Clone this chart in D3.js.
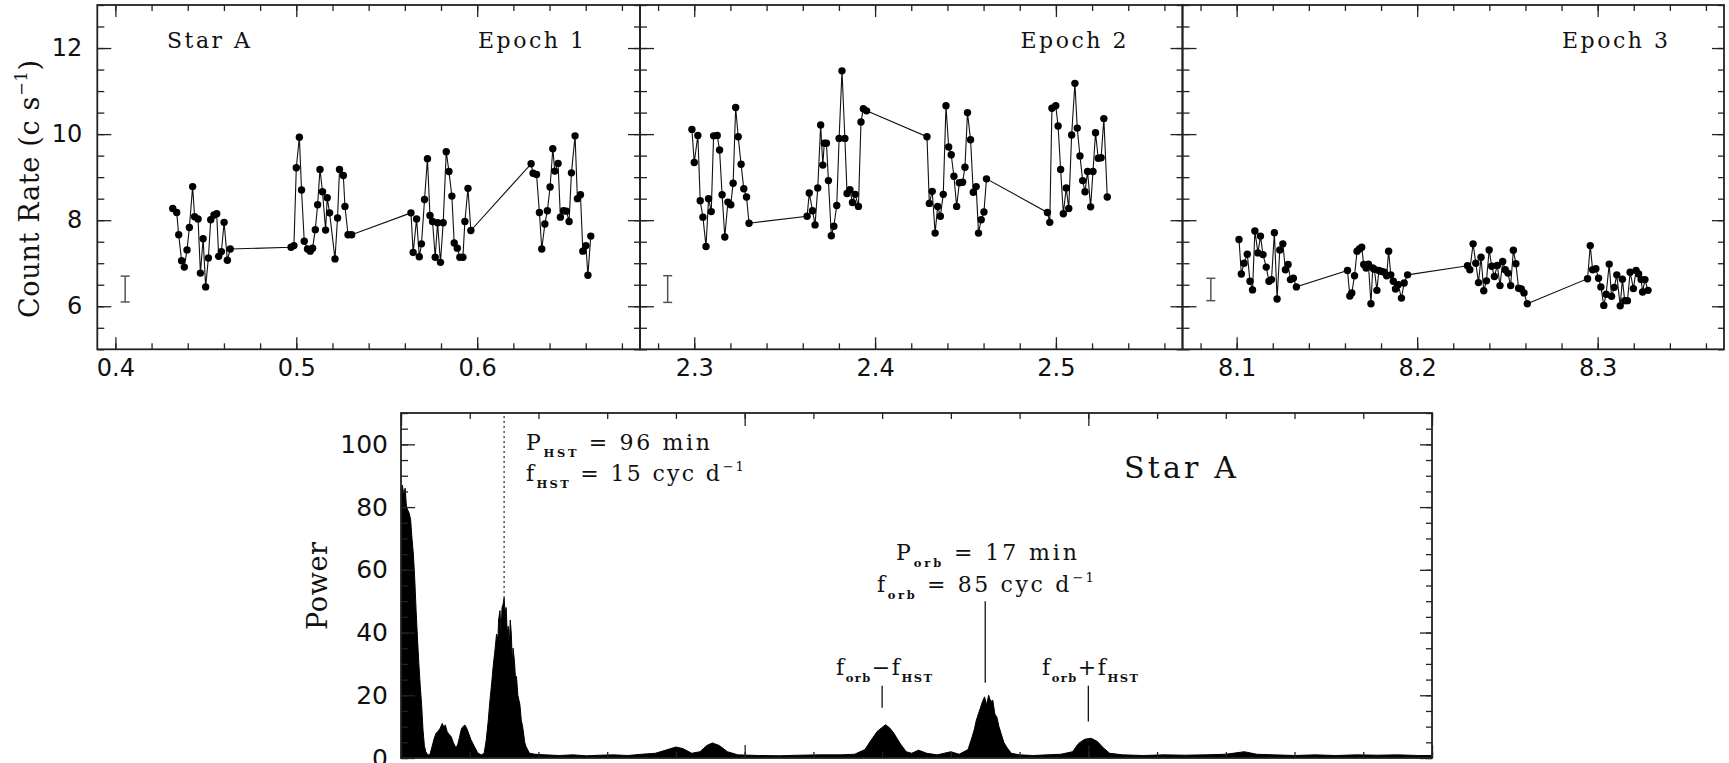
<!DOCTYPE html>
<html>
<head>
<meta charset="utf-8">
<script src="https://cdn.jsdelivr.net/npm/d3@7"></script>
<style>
body { margin: 0; background: #fff; }
svg { display: block; }
</style>
</head>
<body>
<div id="chart"></div>
<script>
// light curves, one pair of arrays per epoch (time in days, count rate in c/s)
var epoch1Time = [0.4317, 0.4339, 0.4350, 0.4366, 0.4381, 0.4396, 0.4409, 0.4427, 0.4438, 0.4457, 0.4470, 0.4485, 0.4499, 0.4514, 0.4527, 0.4545, 0.4560, 0.4571, 0.4586, 0.4601, 0.4619, 0.4635,
    0.4971, 0.4987, 0.5000, 0.5017, 0.5029, 0.5044, 0.5062, 0.5077, 0.5090, 0.5105, 0.5118, 0.5131, 0.5145, 0.5162, 0.5171, 0.5184, 0.5214, 0.5228, 0.5239, 0.5260, 0.5269, 0.5286, 0.5306,
    0.5634, 0.5646, 0.5665, 0.5680, 0.5692, 0.5709, 0.5725, 0.5739, 0.5753, 0.5768, 0.5781, 0.5797, 0.5812, 0.5829, 0.5844, 0.5860, 0.5873, 0.5890, 0.5904, 0.5921, 0.5932, 0.5949, 0.5965,
    0.6298, 0.6309, 0.6328, 0.6344, 0.6357, 0.6374, 0.6388, 0.6403, 0.6418, 0.6429, 0.6447, 0.6460, 0.6477, 0.6493, 0.6508, 0.6521, 0.6541, 0.6554, 0.6571, 0.6584, 0.6601, 0.6612, 0.6628];
var epoch1Rate = [8.27, 8.18, 7.66, 7.06, 6.91, 7.31, 7.83, 8.78, 8.08, 8.03, 6.77, 7.57, 6.45, 7.12, 8.01, 8.12, 8.15, 7.16, 7.27, 7.95, 7.07, 7.33,
    7.37, 7.41, 9.22, 9.93, 8.70, 7.51, 7.33, 7.28, 7.35, 7.78, 8.36, 9.18, 8.66, 7.77, 8.52, 8.17, 7.10, 8.05, 9.18, 9.04, 8.32, 7.66, 7.66,
    8.17, 7.25, 8.03, 7.15, 7.45, 8.48, 9.43, 8.11, 7.97, 7.14, 7.94, 7.02, 7.94, 9.59, 9.13, 8.56, 7.47, 7.35, 7.14, 7.14, 7.97, 8.74, 7.76,
    9.31, 9.09, 9.06, 8.18, 7.33, 7.91, 8.22, 8.77, 9.66, 9.14, 9.32, 8.07, 8.22, 8.21, 7.97, 9.10, 9.96, 8.50, 8.59, 7.28, 7.41, 6.72, 7.63];

var epoch2Time = [2.2987, 2.3000, 2.3020, 2.3033, 2.3048, 2.3065, 2.3079, 2.3094, 2.3107, 2.3127, 2.3140, 2.3154, 2.3169, 2.3186, 2.3202, 2.3215, 2.3229, 2.3243, 2.3259, 2.3274, 2.3289, 2.3303,
    2.3624, 2.3636, 2.3654, 2.3668, 2.3683, 2.3699, 2.3711, 2.3719, 2.3731, 2.3742, 2.3758, 2.3772, 2.3788, 2.3801, 2.3817, 2.3833, 2.3845, 2.3861, 2.3875, 2.3890, 2.3908, 2.3922, 2.3935, 2.3953,
    2.4287, 2.4300, 2.4316, 2.4332, 2.4346, 2.4361, 2.4377, 2.4392, 2.4407, 2.4421, 2.4436, 2.4451, 2.4466, 2.4484, 2.4497, 2.4511, 2.4528, 2.4543, 2.4559, 2.4572, 2.4587, 2.4602, 2.4616,
    2.4953, 2.4966, 2.4978, 2.4999, 2.5012, 2.5026, 2.5041, 2.5057, 2.5071, 2.5087, 2.5105, 2.5118, 2.5133, 2.5148, 2.5161, 2.5175, 2.5192, 2.5205, 2.5219, 2.5234, 2.5250, 2.5265, 2.5284];
var epoch2Rate = [10.11, 9.34, 9.97, 8.45, 8.07, 7.39, 8.50, 8.20, 9.96, 9.97, 9.63, 8.59, 7.61, 8.42, 8.36, 8.86, 10.62, 9.94, 9.30, 8.73, 8.54, 7.93,
    8.09, 8.63, 8.22, 7.89, 8.75, 10.21, 9.28, 9.79, 9.79, 8.92, 7.64, 7.86, 8.34, 9.90, 11.47, 9.90, 8.62, 8.71, 8.41, 8.60, 8.32, 10.28, 10.59, 10.54,
    9.94, 8.39, 8.67, 7.70, 8.32, 8.09, 8.60, 10.66, 9.70, 9.52, 9.02, 8.32, 8.87, 8.88, 9.23, 10.50, 9.87, 8.65, 8.78, 7.70, 8.01, 8.19, 8.96,
    8.18, 7.95, 10.60, 10.66, 10.19, 9.18, 8.15, 8.75, 8.27, 9.98, 11.18, 10.14, 9.49, 8.92, 8.66, 9.13, 8.31, 9.13, 10.03, 9.44, 9.45, 10.36, 8.54];

var epoch3Time = [8.1013, 8.1026, 8.1041, 8.1059, 8.1074, 8.1088, 8.1101, 8.1118, 8.1132, 8.1146, 8.1164, 8.1179, 8.1193, 8.1209, 8.1224, 8.1239, 8.1256, 8.1270, 8.1285, 8.1298, 8.1314, 8.1331,
    8.1614, 8.1627, 8.1638, 8.1653, 8.1667, 8.1680, 8.1693, 8.1704, 8.1717, 8.1730, 8.1744, 8.1754, 8.1763, 8.1777, 8.1788, 8.1803, 8.1818, 8.1831, 8.1842, 8.1854, 8.1868, 8.1880, 8.1895, 8.1913, 8.1928, 8.1947,
    8.2279, 8.2292, 8.2310, 8.2325, 8.2340, 8.2354, 8.2369, 8.2384, 8.2399, 8.2413, 8.2428, 8.2444, 8.2459, 8.2474, 8.2488, 8.2503, 8.2518, 8.2533, 8.2547, 8.2562, 8.2577, 8.2592, 8.2610,
    8.2944, 8.2959, 8.2972, 8.2990, 8.3005, 8.3018, 8.3034, 8.3047, 8.3064, 8.3077, 8.3092, 8.3106, 8.3125, 8.3137, 8.3150, 8.3165, 8.3180, 8.3198, 8.3213, 8.3227, 8.3241, 8.3249, 8.3262, 8.3279];
var epoch3Rate = [7.55, 6.75, 7.00, 7.21, 6.58, 6.38, 7.75, 7.24, 7.63, 7.20, 6.91, 6.58, 6.62, 7.71, 6.17, 7.31, 7.45, 6.85, 6.97, 6.62, 6.65, 6.45,
    6.83, 6.24, 6.31, 6.71, 7.28, 7.33, 7.37, 6.97, 6.89, 6.98, 6.06, 6.89, 6.86, 6.37, 6.83, 6.81, 6.79, 6.71, 7.28, 6.73, 6.58, 6.40, 6.50, 6.19, 6.54, 6.73,
    6.94, 6.85, 7.45, 7.00, 6.55, 7.14, 6.36, 6.59, 7.31, 6.93, 6.69, 6.95, 6.48, 7.04, 6.85, 6.77, 6.48, 7.30, 6.99, 6.42, 6.40, 6.31, 6.06,
    6.64, 7.41, 6.85, 6.87, 6.65, 6.45, 6.02, 6.28, 6.98, 6.23, 6.44, 6.73, 6.01, 6.63, 6.13, 6.13, 6.79, 6.41, 6.83, 6.75, 6.62, 6.33, 6.62, 6.37];

// typical error bar drawn in each panel
var errTime = [0.4054, 2.2853, 8.0857];
var errRate = [6.40, 6.40, 6.39];
var errHalf = [0.30, 0.31, 0.26];

var epochNames = ["Epoch 1", "Epoch 2", "Epoch 3"];
var epochDomains = [[0.39, 0.69], [2.27, 2.57], [8.07, 8.37]];
var epochTicks = [[0.4, 0.5, 0.6], [2.3, 2.4, 2.5], [8.1, 8.2, 8.3]];
var rateDomain = [5, 13];
var rateTicks = [6, 8, 10, 12];

// power spectrum (frequency in cyc/d, power)
var specFreq = [0, 0.2, 0.4, 0.6, 0.8, 1.0, 1.2, 1.4, 1.6, 1.8, 2.0, 2.2, 2.4, 2.6, 2.8, 3.0, 3.2, 3.4, 3.6, 3.9,
    4.2, 4.5, 4.8, 5.1, 5.4, 5.7, 6.0, 6.2, 6.45, 6.7, 6.9, 7.3, 7.6, 7.9, 8.2, 8.5, 8.8, 9.1, 9.3, 9.6, 9.9, 10.2, 10.7, 11.2, 11.7,
    12.1, 12.4, 12.7, 12.9, 13.2, 13.4, 13.7, 13.9, 14.1, 14.2, 14.4, 14.55, 14.7, 14.85, 15.0, 15.15, 15.3, 15.45, 15.6, 15.75, 15.9, 16.05, 16.2, 16.3, 16.5, 16.7, 16.8, 17.0, 17.3, 17.5, 17.7, 18.0, 18.2, 18.7,
    19.5, 21, 23, 25, 27, 29, 31, 33, 35, 37, 38.5, 40, 41, 42.3, 43.5, 44.5, 45.3, 46.3, 47.5, 49, 52, 55, 58, 61, 64, 66,
    67.5, 68.4, 69.3, 69.9, 70.5, 71.1, 71.7, 72.6, 73.5, 74.3, 75.3, 76.5, 78, 80, 81.2,
    82.5, 83.1, 83.4, 83.7, 84.0, 84.3, 84.6, 84.9, 85.2, 85.5, 85.8, 86.1, 86.4, 86.7, 87.0, 87.3, 87.7, 88.2, 88.8,
    90, 92, 94, 96, 97.7, 98.6, 99.5, 100.4, 101.3, 102.2, 103.1, 105, 108, 111, 114, 117, 120, 122.7, 124.5, 127, 130, 133, 136, 139, 142, 145, 148, 150];
var specPower = [86, 87, 84, 86, 80, 79, 78, 76, 70, 65, 57, 47, 38, 30, 23, 17, 9, 4, 2, 1,
    1, 3.5, 6, 7.9, 8.5, 9.5, 11, 10, 10.5, 8.5, 7.8, 6.8, 5, 3.6, 3.8, 6.5, 9.4, 10.2, 10.5, 9.3, 7.5, 5.7, 3.6, 1.5, 1,
    1.5, 5.7, 12, 17.4, 24, 29, 35, 39.5, 38, 44, 47, 40, 48, 49, 51, 46, 48, 40, 42, 36, 44, 39.5, 30, 35, 31, 24, 26, 20, 17, 12, 10, 5, 3.6, 1.5,
    1.2, 1, 0.8, 1, 0.7, 0.9, 1, 0.8, 1.2, 1.5, 2.5, 3.5, 3, 1.5, 2, 4, 4.8, 4, 2, 1, 0.8, 0.7, 0.9, 1, 1, 1.2,
    2.7, 5.7, 8.5, 9.6, 10.6, 9.6, 7.9, 4.7, 2, 1.5, 2.5, 1.5, 1, 2, 1.2,
    2.7, 6.8, 9, 12, 14, 16, 18, 19.5, 17, 20, 18, 18.4, 14, 13, 10, 7.9, 5, 3.2, 1.5,
    1, 0.8, 1, 1.2, 2, 4.7, 6, 6.3, 5.3, 3.2, 1.5, 1, 0.8, 1, 0.9, 1, 1.2, 2, 1.2, 1, 0.8, 1, 0.8, 1, 0.9, 1, 0.8, 0.8];

var freqDomain = [0, 150];
var freqTicks = [0, 50, 100, 150];
var powerDomain = [0, 110];
var powerTicks = [0, 20, 40, 60, 80, 100];

// marked frequencies: f_HST, f_orb - f_HST, f_orb, f_orb + f_HST
var hstFreq = 15;
var markFreq = [70, 85, 100];
var markLow = [16, 24, 11.6];
var markHigh = [23, 50, 23];

var serif = "DejaVu Serif";
var sans = "DejaVu Sans";

var svg = d3.select("#chart").append("svg")
            .attr("width", 1729)
            .attr("height", 763);

// writes text made of normal / sub / sup pieces, stretched to a given length
function richText(g, x, y, parts, size, len) {
    var t = g.append("text")
            .attr("x", x)
            .attr("y", y)
            .attr("font-family", serif)
            .attr("font-size", size)
            .attr("fill", "#111");
    var shift = 0;
    parts.forEach(function(p) {
        var target = p[1] == "sub" ? size * 0.3 : (p[1] == "sup" ? -size * 0.45 : 0);
        var ts = t.append("tspan").text(p[0]).attr("dy", target - shift);
        if (p[1] == "sub") ts.attr("font-size", size * 0.52).attr("font-weight", "bold");
        if (p[1] == "sup") ts.attr("font-size", size * 0.6);
        shift = target;
    });
    if (len) t.attr("textLength", len).attr("lengthAdjust", "spacing");
    return t;
}

function styleTicks(g, size) {
    g.selectAll(".domain").remove();
    g.selectAll("line").attr("stroke", "#222").attr("stroke-width", 1.3);
    g.selectAll("text").attr("font-family", sans).attr("font-size", size).attr("fill", "#111");
}

// ---------- top row: three light-curve panels ----------
var panelX = [97.3, 640, 1182.5, 1724];
var topY = 5, botY = 349.3;

var yRate = d3.scaleLinear().domain(rateDomain).range([botY, topY]);

var allTimes = [epoch1Time, epoch2Time, epoch3Time];
var allRates = [epoch1Rate, epoch2Rate, epoch3Rate];

for (var i = 0; i < 3; i++) {
    var x = d3.scaleLinear().domain(epochDomains[i]).range([panelX[i], panelX[i + 1]]);
    var g = svg.append("g");
    var minorX = x.ticks(15);
    var minorY = yRate.ticks(16);

    // ticks on all four sides
    styleTicks(g.append("g").attr("transform", "translate(0," + botY + ")")
        .call(d3.axisBottom(x).tickValues(minorX).tickSize(-6).tickFormat("")), 24);
    var xb = g.append("g").attr("transform", "translate(0," + botY + ")")
        .call(d3.axisBottom(x).tickValues(epochTicks[i]).tickSize(-12).tickPadding(10).tickFormat(d3.format(".1f")));
    styleTicks(xb, 24);
    styleTicks(g.append("g").attr("transform", "translate(0," + topY + ")")
        .call(d3.axisTop(x).tickValues(minorX).tickSize(-6).tickFormat("")), 24);
    styleTicks(g.append("g").attr("transform", "translate(0," + topY + ")")
        .call(d3.axisTop(x).tickValues(epochTicks[i]).tickSize(-12).tickFormat("")), 24);

    styleTicks(g.append("g").attr("transform", "translate(" + panelX[i] + ",0)")
        .call(d3.axisLeft(yRate).tickValues(minorY).tickSize(-7).tickFormat("")), 24);
    var yl = g.append("g").attr("transform", "translate(" + panelX[i] + ",0)")
        .call(d3.axisLeft(yRate).tickValues(rateTicks).tickSize(-14).tickPadding(15));
    styleTicks(yl, 24);
    if (i > 0) yl.selectAll("text").remove();
    styleTicks(g.append("g").attr("transform", "translate(" + panelX[i + 1] + ",0)")
        .call(d3.axisRight(yRate).tickValues(minorY).tickSize(-6).tickFormat("")), 24);
    styleTicks(g.append("g").attr("transform", "translate(" + panelX[i + 1] + ",0)")
        .call(d3.axisRight(yRate).tickValues(rateTicks).tickSize(-12).tickFormat("")), 24);

    g.append("rect")
        .attr("x", panelX[i]).attr("y", topY)
        .attr("width", panelX[i + 1] - panelX[i]).attr("height", botY - topY)
        .attr("fill", "none").attr("stroke", "#222").attr("stroke-width", 1.8);

    var pts = allTimes[i].map(function(t, k) { return [t, allRates[i][k]]; });

    g.append("path")
        .datum(pts)
        .attr("d", d3.line().x(function(d) { return x(d[0]); }).y(function(d) { return yRate(d[1]); }))
        .attr("fill", "none")
        .attr("stroke", "#111")
        .attr("stroke-width", 1.1);

    g.selectAll("circle")
        .data(pts)
      .enter()
        .append("circle")
        .attr("cx", function(d) { return x(d[0]); })
        .attr("cy", function(d) { return yRate(d[1]); })
        .attr("r", 3.7)
        .style("fill", "#000");

    // error bar
    var ex = x(errTime[i]);
    var eTop = yRate(errRate[i] + errHalf[i]), eBot = yRate(errRate[i] - errHalf[i]);
    g.append("line").attr("x1", ex).attr("x2", ex).attr("y1", eTop).attr("y2", eBot)
        .attr("stroke", "#555").attr("stroke-width", 1.5);
    [eTop, eBot].forEach(function(yy) {
        g.append("line").attr("x1", ex - 4.5).attr("x2", ex + 4.5).attr("y1", yy).attr("y2", yy)
            .attr("stroke", "#555").attr("stroke-width", 1.5);
    });

    richText(g, panelX[i + 1] - 162, 48, [[epochNames[i], "n"]], 22, 106);
}

richText(svg, 167, 48, [["Star A", "n"]], 22, 83);

svg.append("g").attr("transform", "translate(39,318) rotate(-90)")
    .call(function(g) {
        richText(g, 0, 0, [["Count Rate (c s", "n"], ["\u22121", "sup"], [")", "n"]], 27, 258);
    });

// ---------- bottom: power spectrum ----------
var sL = 401, sR = 1432, sT = 413, sB = 758;
var fx = d3.scaleLinear().domain(freqDomain).range([sL, sR]);
var fy = d3.scaleLinear().domain(powerDomain).range([sB, sT]);

var sg = svg.append("g");

sg.append("clipPath").attr("id", "specClip")
    .append("rect").attr("x", sL).attr("y", sT).attr("width", sR - sL).attr("height", sB - sT);

var spec = specFreq.map(function(f, k) { return [f, specPower[k]]; });

sg.append("path")
    .datum(spec)
    .attr("clip-path", "url(#specClip)")
    .attr("d", d3.area()
        .x(function(d) { return fx(d[0]); })
        .y0(fy(0))
        .y1(function(d) { return fy(d[1]); }))
    .attr("fill", "#000")
    .attr("stroke", "#000")
    .attr("stroke-width", 1);

var minorF = fx.ticks(15);
var minorP = fy.ticks(22);

styleTicks(sg.append("g").attr("transform", "translate(0," + sB + ")")
    .call(d3.axisBottom(fx).tickValues(minorF).tickSize(-6).tickFormat("")), 25);
styleTicks(sg.append("g").attr("transform", "translate(0," + sB + ")")
    .call(d3.axisBottom(fx).tickValues(freqTicks).tickSize(-13).tickFormat("")), 25);
styleTicks(sg.append("g").attr("transform", "translate(0," + sT + ")")
    .call(d3.axisTop(fx).tickValues(minorF).tickSize(-6).tickFormat("")), 25);
styleTicks(sg.append("g").attr("transform", "translate(0," + sT + ")")
    .call(d3.axisTop(fx).tickValues(freqTicks).tickSize(-13).tickFormat("")), 25);
styleTicks(sg.append("g").attr("transform", "translate(" + sL + ",0)")
    .call(d3.axisLeft(fy).tickValues(minorP).tickSize(-7).tickFormat("")), 25);
styleTicks(sg.append("g").attr("transform", "translate(" + sL + ",0)")
    .call(d3.axisLeft(fy).tickValues(powerTicks).tickSize(-14).tickPadding(13)), 25);
styleTicks(sg.append("g").attr("transform", "translate(" + sR + ",0)")
    .call(d3.axisRight(fy).tickValues(minorP).tickSize(-6).tickFormat("")), 25);
styleTicks(sg.append("g").attr("transform", "translate(" + sR + ",0)")
    .call(d3.axisRight(fy).tickValues(powerTicks).tickSize(-12).tickFormat("")), 25);

sg.append("rect")
    .attr("x", sL).attr("y", sT).attr("width", sR - sL).attr("height", sB - sT)
    .attr("fill", "none").attr("stroke", "#222").attr("stroke-width", 1.8);

// dotted line at the HST orbital frequency
sg.append("line")
    .attr("x1", fx(hstFreq)).attr("x2", fx(hstFreq))
    .attr("y1", fy(51)).attr("y2", fy(powerDomain[1]))
    .attr("stroke", "#222").attr("stroke-width", 1.2)
    .attr("stroke-dasharray", "2,3");

markFreq.forEach(function(f, k) {
    sg.append("line")
        .attr("x1", fx(f)).attr("x2", fx(f))
        .attr("y1", fy(markLow[k])).attr("y2", fy(markHigh[k]))
        .attr("stroke", "#111").attr("stroke-width", 1.3);
});

svg.append("g").attr("transform", "translate(327,630) rotate(-90)")
    .call(function(g) { richText(g, 0, 0, [["Power", "n"]], 27, 88); });

richText(sg, 526, 450, [["P", "n"], ["HST", "sub"], [" = 96 min", "n"]], 22, 184);
richText(sg, 526, 481, [["f", "n"], ["HST", "sub"], [" = 15 cyc d", "n"], ["\u22121", "sup"]], 22, 218);
richText(sg, 1124, 478, [["Star A", "n"]], 30, 112);
richText(sg, 896, 560, [["P", "n"], ["orb", "sub"], [" = 17 min", "n"]], 22, 181);
richText(sg, 877, 592, [["f", "n"], ["orb", "sub"], [" = 85 cyc d", "n"], ["\u22121", "sup"]], 22, 217);
richText(sg, 836, 675, [["f", "n"], ["orb", "sub"], ["\u2212f", "n"], ["HST", "sub"]], 22, 96);
richText(sg, 1042, 675, [["f", "n"], ["orb", "sub"], ["+f", "n"], ["HST", "sub"]], 22, 96);
</script>
</body>
</html>
